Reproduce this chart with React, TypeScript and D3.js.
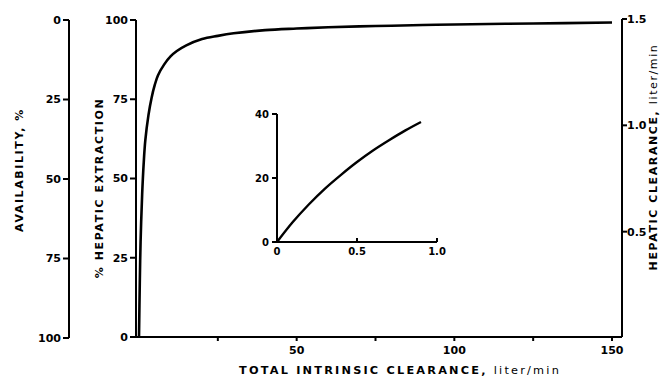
import React from "react";
import * as d3 from "d3";

// main curve: % hepatic extraction vs total intrinsic clearance (liter/min)
const clint = [0, 0.25, 0.5, 1, 1.5, 2, 3, 4, 5, 6, 8, 10, 12, 15, 20, 25, 30, 40, 50, 60, 75, 90, 100, 125, 150];
const extraction = [0, 17, 30, 45, 55, 62, 70, 75.5, 79.5, 82.5, 86, 88.5, 90.2, 92, 94, 95, 95.8, 96.8, 97.3, 97.7, 98.1, 98.4, 98.6, 98.9, 99.2];

// inset: low clearance range
const insetClint = [0, 0.1, 0.2, 0.3, 0.4, 0.5, 0.6, 0.7, 0.8, 0.9];
const insetExtraction = [0, 6.3, 11.8, 16.7, 21, 25, 28.6, 31.8, 34.8, 37.5];

const xTicks = [25, 50, 75, 100, 125, 150];
const xLabels = [50, 100, 150];
const extractionTicks = [0, 25, 50, 75, 100];
const availabilityTicks = [0, 25, 50, 75, 100];
const clearanceTicks = [0.5, 1.0, 1.5];
const insetYTicks = [0, 20, 40];
const insetXTicks = [0, 0.5, 1.0];

const FONT = "'DejaVu Sans', Arial, sans-serif";

export default function App() {
  const x = d3.scaleLinear().domain([0, 150]).range([139, 612]);
  const yE = d3.scaleLinear().domain([0, 100]).range([337, 20]);
  const yA = d3.scaleLinear().domain([0, 100]).range([20, 338]);
  const yC = d3.scaleLinear().domain([0, 1.5]).range([338, 19]);

  const xI = d3.scaleLinear().domain([0, 1]).range([277, 437]);
  const yI = d3.scaleLinear().domain([0, 40]).range([242, 114]);

  const line = d3
    .line<number>()
    .x((d) => x(d))
    .y((_, i) => yE(extraction[i]))
    .curve(d3.curveCatmullRom.alpha(0.5));

  const insetLine = d3
    .line<number>()
    .x((d) => xI(d))
    .y((_, i) => yI(insetExtraction[i]))
    .curve(d3.curveCatmullRom.alpha(0.5));

  const axisX0 = 136;
  const availX = 69;
  const rightX = 622;
  const baseY = yE(0);

  const num = { fontFamily: FONT, fontWeight: 700, fontSize: 11, fill: "#000" } as const;
  const title = { fontFamily: FONT, fontWeight: 700, fontSize: 11, letterSpacing: 1.6, fill: "#000" } as const;

  return (
    <svg width={667} height={381} style={{ position: "absolute", left: 0, top: 0, background: "#fff" }}>
      <g stroke="#000" strokeWidth={2} fill="none">
        {/* availability axis */}
        <line x1={availX} y1={yA(0)} x2={availX} y2={yA(100)} />
        {availabilityTicks.map((t) => (
          <line key={t} x1={availX - 6} y1={yA(t)} x2={availX} y2={yA(t)} />
        ))}
        {/* extraction axis */}
        <line x1={axisX0} y1={yE(100)} x2={axisX0} y2={baseY} />
        {extractionTicks.map((t) => (
          <line key={t} x1={axisX0 - 6} y1={yE(t)} x2={axisX0} y2={yE(t)} />
        ))}
        {/* bottom axis */}
        <line x1={axisX0} y1={baseY} x2={rightX} y2={baseY} />
        {xTicks.map((t) => (
          <line key={t} x1={x(t)} y1={baseY} x2={x(t)} y2={baseY + 4} />
        ))}
        {/* hepatic clearance axis */}
        <line x1={rightX} y1={yC(1.5)} x2={rightX} y2={baseY} />
        {clearanceTicks.map((t) => (
          <line key={t} x1={rightX} y1={yC(t)} x2={rightX + 5} y2={yC(t)} />
        ))}
        {/* inset axes */}
        <line x1={xI(0)} y1={yI(40)} x2={xI(0)} y2={yI(0)} />
        <line x1={xI(0)} y1={yI(0)} x2={xI(1)} y2={yI(0)} />
        {insetYTicks.map((t) => (
          <line key={t} x1={xI(0) - 5} y1={yI(t)} x2={xI(0)} y2={yI(t)} />
        ))}
        {insetXTicks.slice(1).map((t) => (
          <line key={t} x1={xI(t)} y1={yI(0)} x2={xI(t)} y2={yI(0) - 4} />
        ))}
      </g>

      <path d={line(clint) ?? ""} fill="none" stroke="#000" strokeWidth={2.6} />
      <path d={insetLine(insetClint) ?? ""} fill="none" stroke="#000" strokeWidth={2.4} />

      {/* tick labels */}
      {availabilityTicks.map((t) => (
        <text key={t} {...num} x={availX - 8} y={yA(t)} dy="0.35em" textAnchor="end">
          {t}
        </text>
      ))}
      {extractionTicks.map((t) => (
        <text key={t} {...num} x={axisX0 - 8} y={yE(t)} dy="0.35em" textAnchor="end">
          {t}
        </text>
      ))}
      {xLabels.map((t) => (
        <text key={t} {...num} x={x(t)} y={baseY + 17} textAnchor="middle">
          {t}
        </text>
      ))}
      {clearanceTicks.map((t) => (
        <text key={t} {...num} x={rightX + 5} y={yC(t)} dy="0.35em" textAnchor="start">
          {t.toFixed(1)}
        </text>
      ))}
      {insetYTicks.map((t) => (
        <text key={t} {...num} fontSize={10} x={xI(0) - 8} y={yI(t)} dy="0.35em" textAnchor="end">
          {t}
        </text>
      ))}
      {insetXTicks.map((t) => (
        <text key={t} {...num} fontSize={10} x={xI(t)} y={yI(0) + 13} textAnchor="middle">
          {t === 0 ? "0" : t.toFixed(1)}
        </text>
      ))}

      {/* axis titles */}
      <text {...title} letterSpacing={2.2} fontSize={11.3} x={400} y={374} textAnchor="middle">
        TOTAL INTRINSIC CLEARANCE, <tspan fontWeight={400}>liter/min</tspan>
      </text>
      <text {...title} transform="translate(23,170) rotate(-90)" textAnchor="middle">
        AVAILABILITY, %
      </text>
      <text {...title} transform="translate(103,188) rotate(-90)" textAnchor="middle">
        % HEPATIC EXTRACTION
      </text>
      <text {...title} transform="translate(657,157) rotate(-90)" textAnchor="middle">
        HEPATIC CLEARANCE, <tspan fontWeight={400}>liter/min</tspan>
      </text>
    </svg>
  );
}
